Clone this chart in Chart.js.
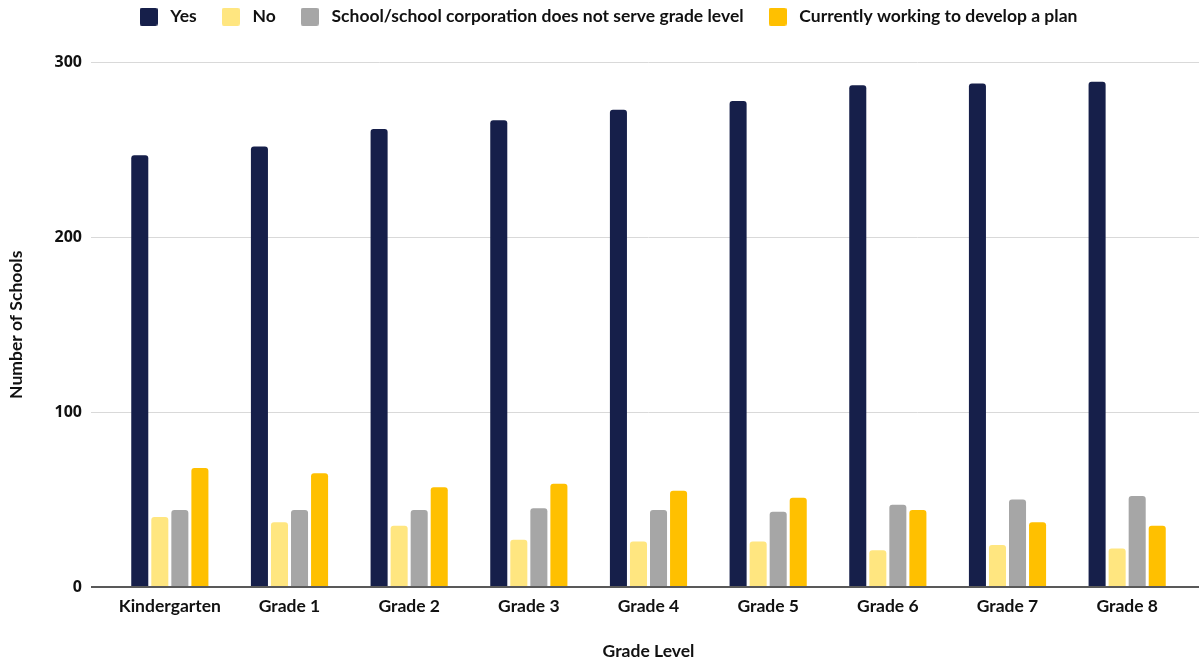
<!DOCTYPE html>
<html>
<head>
<meta charset="utf-8">
<script src="https://cdn.jsdelivr.net/npm/chart.js@4.4.1/dist/chart.umd.min.js"></script>
<style>
  html, body { margin: 0; padding: 0; background: #fff; }
  #wrap { width: 1199px; height: 662px; }
</style>
</head>
<body>
<div id="wrap"><canvas id="chart"></canvas></div>
<script>
// datos
const gradeLevels = ["Kindergarten", "Grade 1", "Grade 2", "Grade 3", "Grade 4", "Grade 5", "Grade 6", "Grade 7", "Grade 8"];
const yesValues     = [247, 252, 262, 267, 273, 278, 287, 288, 289];
const noValues      = [40, 37, 35, 27, 26, 26, 21, 24, 22];
const notServed     = [44, 44, 44, 45, 44, 43, 47, 50, 52];
const developing    = [68, 65, 57, 59, 55, 51, 44, 37, 35];
const yTicks        = [0, 100, 200, 300];

const colores   = ["#161f4a", "#ffe680", "#a6a6a6", "#ffc000"];
const labelFont = "Lato, 'Open Sans', sans-serif";
const tickFont  = "'Open Sans', 'DejaVu Sans', sans-serif";

const alinear = (p, w) => Math.round(p - w / 2) + w / 2;

// cuadritos de la leyenda (18x18, esquinas suaves)
function cuadro(color) {
    const c = document.createElement("canvas");
    c.width = 18; c.height = 18;
    const g = c.getContext("2d");
    g.fillStyle = color;
    g.beginPath();
    g.roundRect(0, 0, 18, 18, 2);
    g.fill();
    return c;
}
const cuadros = colores.map(cuadro);

const ajustes = {
    id: "ajustes",
    afterLayout(chart) {
        // sube la leyenda y la corre un poco a la derecha
        const lg = chart.legend;
        if (lg) {
            lg.top -= 27; lg.bottom -= 27;
            lg.left += 13; lg.right += 13;
        }
    },
    beforeDatasetsDraw(chart) {
        // extiende las líneas de la grilla hasta el borde derecho
        const { ctx, chartArea, scales } = chart;
        ctx.save();
        scales.y.ticks.forEach(t => {
            const w = t.value === 0 ? 2 : 1;
            const y = alinear(scales.y.getPixelForValue(t.value), w);
            ctx.strokeStyle = t.value === 0 ? "#595959" : "#d9d9d9";
            ctx.lineWidth   = w;
            ctx.beginPath();
            ctx.moveTo(chartArea.right, y);
            ctx.lineTo(chart.width, y);
            ctx.stroke();
        });
        ctx.restore();
    }
};

const mkSet = (label, data, i) => ({
    label,
    data,
    backgroundColor: colores[i],
    borderRadius: 3,
    barPercentage: 0.85,
    categoryPercentage: 0.67,
});

new Chart(document.getElementById("chart"), {
    type: "bar",
    data: {
        labels: gradeLevels,
        datasets: [
            mkSet("Yes", yesValues, 0),
            mkSet("No", noValues, 1),
            mkSet("School/school corporation does not serve grade level", notServed, 2),
            mkSet("Currently working to develop a plan", developing, 3),
        ]
    },
    options: {
        responsive: true,
        maintainAspectRatio: false,
        animation: false,
        layout: { padding: { top: 14, right: 12, bottom: 0, left: 0 } },
        plugins: {
            tooltip: { enabled: false },
            legend: {
                position: "top",
                labels: {
                    usePointStyle: true,
                    pointStyleWidth: 26,
                    padding: 21,
                    color: "#111",
                    font: { family: labelFont, size: 17.5, weight: "bold" },
                    generateLabels(chart) {
                        return Chart.defaults.plugins.legend.labels.generateLabels(chart)
                            .map((l, i) => ({ ...l, pointStyle: cuadros[i] }));
                    },
                },
            },
        },
        scales: {
            x: {
                grid: { display: false, drawTicks: false },
                border: { display: false },
                ticks: {
                    padding: 9,
                    color: "#111",
                    font: { family: labelFont, size: 17.5, weight: "bold" },
                },
                title: {
                    display: true,
                    text: "Grade Level",
                    color: "#111",
                    padding: { top: 4, bottom: 0 },
                    font: { family: labelFont, size: 17.5, weight: "bold" },
                },
                afterFit(scale) { scale.height = 75; },
            },
            y: {
                min: 0,
                max: 300,
                afterBuildTicks(scale) { scale.ticks = yTicks.map(v => ({ value: v })); },
                grid: {
                    color: c => c.tick && c.tick.value === 0 ? "#595959" : "#d9d9d9",
                    lineWidth: c => c.tick && c.tick.value === 0 ? 2 : 1,
                    tickLength: 19,
                },
                border: { display: false },
                ticks: {
                    padding: 9,
                    color: "#111",
                    font: { family: tickFont, size: 16, weight: "bold" },
                },
                title: {
                    display: true,
                    text: "Number of Schools",
                    color: "#111",
                    padding: { top: 6, bottom: 0 },
                    font: { family: labelFont, size: 17.5, weight: "bold" },
                },
                afterFit(scale) { scale.width = 110; },
            },
        },
    },
    plugins: [ajustes],
});
</script>
</body>
</html>
